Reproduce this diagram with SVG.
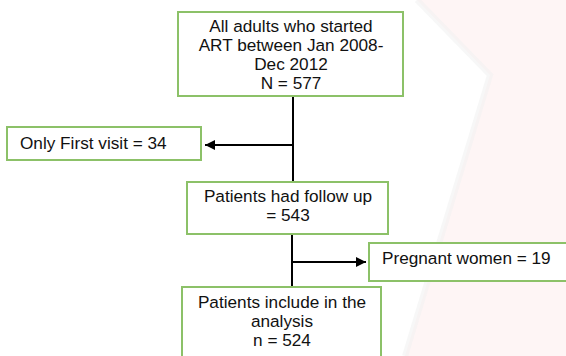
<svg xmlns="http://www.w3.org/2000/svg" width="566" height="356" viewBox="0 0 566 356">
  <defs>
    <style>
      .box { fill: #ffffff; stroke: #8cc168; stroke-width: 2; }
      .t { font-family: "Liberation Sans", Arial, sans-serif; font-size: 17.2px; fill: #111111; }
      .c { text-anchor: middle; }
      .ln { stroke: #000000; stroke-width: 2; fill: none; }
    </style>
    <marker id="ah" viewBox="0 0 10 10" refX="10" refY="5" markerWidth="5" markerHeight="5" orient="auto" markerUnits="strokeWidth">
      <path d="M0,0 L10,5 L0,10 z" fill="#000000"/>
    </marker>
  </defs>
  <rect x="0" y="0" width="566" height="356" fill="#ffffff"/>
  <polygon points="417,0 566,0 566,356 405,356 490,75" fill="#fef5f5"/>
  <polyline points="417,0 490,75 405,356" fill="none" stroke="#f2f2f2" stroke-width="6" opacity="0.6"/>

  <g id="connectors">
    <line class="ln" x1="293" y1="96" x2="293" y2="183"/>
    <line class="ln" x1="293" y1="145" x2="205" y2="145" marker-end="url(#ah)"/>
    <line class="ln" x1="292" y1="234" x2="292" y2="287"/>
    <line class="ln" x1="292" y1="262" x2="366" y2="262" marker-end="url(#ah)"/>
  </g>

  <g id="n1">
    <rect class="box" x="178" y="12" width="225" height="84"/>
    <text class="t c" x="291" y="32">All adults who started</text>
    <text class="t c" x="291" y="51">ART between Jan 2008-</text>
    <text class="t c" x="291" y="70">Dec 2012</text>
    <text class="t c" x="291" y="89">N = 577</text>
  </g>
  <g id="n2">
    <rect class="box" x="7" y="127" width="194" height="33"/>
    <text class="t" x="20" y="149">Only First visit = 34</text>
  </g>
  <g id="n3">
    <rect class="box" x="187" y="182" width="201" height="52"/>
    <text class="t c" x="288" y="202">Patients had follow up</text>
    <text class="t c" x="288" y="221">= 543</text>
  </g>
  <g id="n4">
    <rect class="box" x="369" y="243" width="205" height="38"/>
    <text class="t" x="382" y="264">Pregnant women = 19</text>
  </g>
  <g id="n5">
    <rect class="box" x="182" y="287" width="199" height="80"/>
    <text class="t c" x="282" y="308">Patients include in the</text>
    <text class="t c" x="282" y="327">analysis</text>
    <text class="t c" x="282" y="346">n = 524</text>
  </g>
</svg>
